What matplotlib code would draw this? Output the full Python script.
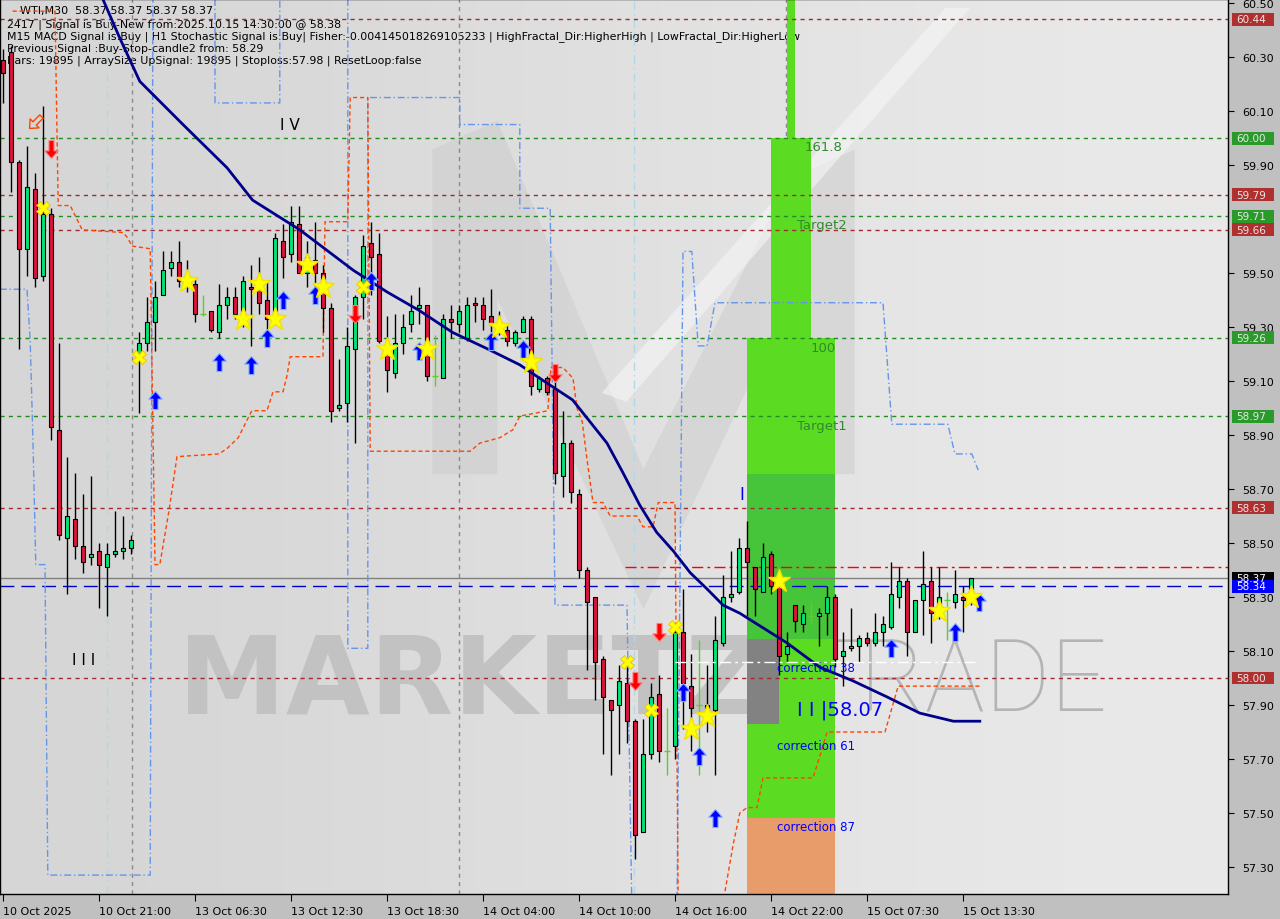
import matplotlib
matplotlib.use("Agg")
import matplotlib.pyplot as plt
from matplotlib.patches import Rectangle, Polygon
from matplotlib.path import Path
from matplotlib.transforms import blended_transform_factory

# -------------------------------------------------------------------------
# WTI M30 bars
# -------------------------------------------------------------------------
opens = [60.29, 60.32, 59.91, 59.59, 59.81, 59.49, 59.72, 58.92, 58.52, 58.59,
         58.49, 58.45, 58.47, 58.41, 58.46, 58.47, 58.48, 59.20, 59.24, 59.32,
         59.42, 59.52, 59.54, 59.47, 59.46, 59.35, 59.36, 59.28, 59.38, 59.41,
         59.35, 59.45, 59.44, 59.40, 59.34, 59.62, 59.57, 59.68, 59.50, 59.55,
         59.50, 59.37, 59.00, 59.02, 59.22, 59.41, 59.61, 59.57, 59.20, 59.13,
         59.24, 59.31, 59.37, 59.38, 59.12, 59.11, 59.33, 59.31, 59.26, 59.39,
         59.38, 59.34, 59.31, 59.29, 59.24, 59.28, 59.33, 59.07, 59.11, 59.07,
         58.75, 58.87, 58.68, 58.40, 58.30, 58.07, 57.92, 57.90, 57.98, 57.84,
         57.43, 57.72, 57.94, 57.73, 57.75, 58.17, 57.97, 57.90, 57.90, 57.88,
         58.13, 58.30, 58.32, 58.48, 58.41, 58.32, 58.46, 58.34, 58.09, 58.27,
         58.20, 58.23, 58.23, 58.24, 58.30, 58.08, 58.11, 58.12, 58.15, 58.13,
         58.17, 58.19, 58.30, 58.36, 58.17, 58.29, 58.36, 58.26, 58.29, 58.28,
         58.30, 58.30]
closes = [60.24, 59.91, 59.59, 59.82, 59.48, 59.72, 58.93, 58.53, 58.60, 58.49,
          58.43, 58.46, 58.42, 58.46, 58.47, 58.48, 58.51, 59.24, 59.32, 59.41,
          59.51, 59.54, 59.47, 59.46, 59.35, 59.35, 59.29, 59.38, 59.41, 59.35,
          59.47, 59.44, 59.39, 59.33, 59.63, 59.56, 59.69, 59.50, 59.56, 59.50,
          59.37, 58.99, 59.01, 59.23, 59.41, 59.60, 59.56, 59.25, 59.14, 59.24,
          59.30, 59.36, 59.38, 59.12, 59.12, 59.33, 59.32, 59.36, 59.38, 59.38,
          59.33, 59.31, 59.29, 59.25, 59.28, 59.33, 59.08, 59.11, 59.06, 58.76,
          58.87, 58.69, 58.40, 58.28, 58.06, 57.93, 57.88, 57.99, 57.84, 57.42,
          57.72, 57.93, 57.73, 57.73, 58.17, 57.98, 57.89, 57.90, 57.87, 58.14,
          58.30, 58.31, 58.48, 58.43, 58.33, 58.45, 58.34, 58.08, 58.12, 58.21,
          58.24, 58.23, 58.24, 58.30, 58.07, 58.10, 58.12, 58.15, 58.13, 58.17,
          58.20, 58.31, 58.36, 58.17, 58.29, 58.35, 58.24, 58.30, 58.29, 58.31,
          58.29, 58.37]
highs = [60.33, 60.34, 59.92, 59.97, 59.87, 60.12, 59.74, 59.24, 58.82, 58.76,
         58.68, 58.75, 58.50, 58.50, 58.62, 58.60, 58.53, 59.28, 59.41, 59.47,
         59.58, 59.58, 59.62, 59.55, 59.48, 59.42, 59.36, 59.46, 59.45, 59.45,
         59.49, 59.53, 59.56, 59.47, 59.65, 59.68, 59.75, 59.75, 59.62, 59.69,
         59.53, 59.39, 59.18, 59.30, 59.42, 59.64, 59.69, 59.65, 59.34, 59.35,
         59.35, 59.42, 59.45, 59.38, 59.27, 59.35, 59.38, 59.38, 59.41, 59.41,
         59.41, 59.44, 59.36, 59.31, 59.29, 59.34, 59.34, 59.12, 59.12, 59.11,
         58.99, 58.88, 58.70, 58.41, 58.30, 58.08, 57.92, 58.05, 58.04, 57.85,
         57.85, 57.98, 58.01, 57.89, 58.18, 58.33, 58.09, 58.14, 58.05, 58.23,
         58.38, 58.47, 58.52, 58.58, 58.41, 58.50, 58.47, 58.34, 58.17, 58.27,
         58.27, 58.28, 58.26, 58.34, 58.31, 58.17, 58.26, 58.16, 58.17, 58.24,
         58.23, 58.43, 58.41, 58.37, 58.29, 58.47, 58.41, 58.41, 58.32, 58.40,
         58.34, 58.37]
lows = [60.13, 59.80, 59.22, 59.49, 59.45, 59.47, 58.88, 58.51, 58.31, 58.44,
        58.39, 58.42, 58.26, 58.23, 58.45, 58.44, 58.46, 58.98, 59.21, 59.21,
        59.42, 59.49, 59.45, 59.43, 59.32, 59.34, 59.28, 59.26, 59.33, 59.33,
        59.30, 59.23, 59.35, 59.29, 59.33, 59.48, 59.54, 59.50, 59.45, 59.45,
        59.28, 58.95, 58.99, 58.95, 58.87, 59.33, 59.42, 59.24, 59.06, 59.11,
        59.20, 59.28, 59.31, 59.10, 59.08, 59.11, 59.26, 59.28, 59.25, 59.32,
        59.29, 59.28, 59.27, 59.23, 59.23, 59.28, 59.05, 59.06, 59.05, 58.72,
        58.67, 58.65, 58.37, 58.03, 57.92, 57.72, 57.64, 57.72, 57.76, 57.33,
        57.43, 57.70, 57.69, 57.64, 57.70, 57.81, 57.73, 57.64, 57.80, 57.64,
        58.12, 58.28, 58.31, 58.23, 58.23, 58.32, 58.31, 58.01, 58.06, 58.17,
        58.17, 58.20, 58.12, 58.16, 58.04, 57.97, 58.10, 58.06, 58.12, 58.12,
        58.12, 58.18, 58.26, 58.08, 58.17, 58.16, 58.13, 58.22, 58.14, 58.26,
        58.17, 58.27]

date_pos = [0, 12, 24, 36, 48, 60, 72, 84, 96, 108, 120]
date_labels = ["10 Oct 2025", "10 Oct 21:00", "13 Oct 06:30", "13 Oct 12:30",
               "13 Oct 18:30", "14 Oct 04:00", "14 Oct 10:00", "14 Oct 16:00",
               "14 Oct 22:00", "15 Oct 07:30", "15 Oct 13:30"]
# 59.70 sits under the 59.71 / 59.66 boxes, so it is not printed
price_ticks = [57.30, 57.50, 57.70, 57.90, 58.10, 58.30, 58.50, 58.70,
               58.90, 59.10, 59.30, 59.50, 59.90, 60.10, 60.30, 60.50]

# moving average (dark blue curve)
ma_idx = [10.9, 12.4, 14.6, 17.1, 22.5, 28.0, 31.2, 37.1, 43.8, 48.0, 52.1,
          56.2, 60.5, 64.6, 67.1, 71.2, 75.5, 77.5, 79.6, 81.7, 83.8, 85.9,
          88.0, 90.0, 92.1, 98.0, 102.1, 106.2, 110.5, 114.6, 118.8, 122.1]
ma_val = [60.61, 60.52, 60.37, 60.21, 60.05, 59.89, 59.77, 59.66, 59.51, 59.43,
          59.36, 59.28, 59.22, 59.16, 59.11, 59.03, 58.87, 58.76, 58.64, 58.54,
          58.47, 58.39, 58.33, 58.27, 58.24, 58.13, 58.04, 57.99, 57.93, 57.87,
          57.84, 57.84]

# upper fractal channel (blue dash-dot)
up_idx = [-0.4, 3.0, 3.4, 3.75, 4.1, 5.25, 5.6, 18.4, 18.75, 26.5, 26.5, 34.6,
          34.6, 43.1, 43.1, 45.6, 45.6, 57.1, 57.1, 64.6, 64.6, 68.4, 69.0, 78.0,
          78.6, 84.25, 85.0, 86.1, 86.9, 88.0, 89.0, 110.0, 111.1, 118.1, 119.0,
          121.1, 121.9]
up_val = [59.44, 59.44, 59.25, 58.87, 58.42, 58.42, 57.27, 57.27, 60.60, 60.60,
          60.13, 60.13, 60.60, 60.60, 58.11, 58.11, 60.15, 60.15, 60.05, 60.05,
          59.74, 59.74, 58.27, 58.27, 57.16, 57.16, 59.58, 59.58, 59.23, 59.23,
          59.39, 59.39, 58.94, 58.94, 58.83, 58.83, 58.77]

# lower fractal channel (orange dashed)
lo_idx = [1.2, 6.5, 6.9, 8.4, 9.9, 15.0, 15.6, 16.1, 18.4, 19.0, 19.6, 20.75,
          21.75, 27.0, 28.0, 29.4, 31.1, 33.0, 33.75, 35.0, 35.5, 35.9, 40.0,
          40.25, 43.1, 43.4, 45.6, 45.9, 58.4, 59.6, 62.1, 63.75, 64.6, 68.1,
          68.5, 70.0, 71.25, 71.75, 72.4, 73.0, 73.75, 75.0, 75.9, 79.25, 80.0,
          81.25, 81.9, 84.0, 84.4, 89.9, 90.25, 91.25, 92.1, 93.0, 94.25, 95.0,
          101.25, 102.1, 103.0, 110.25, 111.9, 122.1]
lo_val = [60.47, 60.47, 59.75, 59.75, 59.66, 59.65, 59.63, 59.60, 59.59, 58.42,
          58.42, 58.62, 58.82, 58.83, 58.85, 58.89, 58.99, 58.99, 59.06, 59.06,
          59.12, 59.19, 59.19, 59.69, 59.69, 60.15, 60.15, 58.84, 58.84, 58.87,
          58.89, 58.92, 58.97, 58.99, 59.15, 59.15, 59.11, 59.00, 58.95, 58.81,
          58.65, 58.65, 58.60, 58.60, 58.56, 58.56, 58.65, 58.65, 57.16, 57.16,
          57.21, 57.38, 57.50, 57.52, 57.52, 57.63, 57.63, 57.71, 57.80, 57.80,
          57.97, 57.97]

red_levels = [60.44, 59.79, 59.66, 58.63, 58.00]
green_levels = [60.00, 59.71, 59.26, 58.97]
last_price = 58.37
blue_line = 58.34
signal_level = 58.41
signal_from = 77.7
corr_level = 58.06
corr_span = [84.0, 122.0]

# signal markers
up_arrow_idx = [19, 27, 31, 33, 35, 39, 46, 52, 61, 65, 85, 87, 89, 111, 119, 122]
up_arrow_val = [59.03, 59.17, 59.16, 59.26, 59.40, 59.42, 59.47, 59.21, 59.25,
                59.22, 57.95, 57.71, 57.48, 58.11, 58.17, 58.28]
dn_arrow_idx = [6, 44, 69, 79, 82]
dn_arrow_val = [59.96, 59.35, 59.13, 57.99, 58.17]
star_idx = [23, 30, 32, 34, 38, 40, 48, 53, 62, 66, 86, 88, 97, 117, 121]
star_val = [59.47, 59.33, 59.46, 59.33, 59.53, 59.45, 59.22, 59.22, 59.30,
            59.17, 57.81, 57.86, 58.36, 58.25, 58.30]
cross_idx = [5, 17, 45, 78, 81, 84]
cross_val = [59.74, 59.19, 59.45, 58.06, 57.88, 58.19]

# target zones: (left bar, right bar, bottom, top)
lime_zones = [(98, 99, 60.00, 60.60), (96, 101, 59.26, 60.00),
              (93, 104, 58.755, 59.26), (97, 104, 57.83, 58.144),
              (93, 104, 57.48, 57.83)]
dark_zone = (93, 104, 58.144, 58.755)
grey_zone = (93, 97, 57.83, 58.144)
salmon_zone = (93, 104, 57.10, 57.48)

header = ["2417 | Signal is Buy-New from:2025.10.15 14:30:00 @ 58.38",
          "M15 MACD Signal is:Buy | H1 Stochastic Signal is:Buy| Fisher:-0.004145018269105233 | HighFractal_Dir:HigherHigh | LowFractal_Dir:HigherLow",
          "Previous Signal :Buy-Stop-candle2 from: 58.29",
          "Bars: 19895 | ArraySize UpSignal: 19895 | Stoploss:57.98 | ResetLoop:false"]

# -------------------------------------------------------------------------
# figure
# -------------------------------------------------------------------------
W, H = 1280, 920
fig = plt.figure(figsize=(12.8, 9.2), dpi=100, facecolor="#c0c0c0")
ax = fig.add_axes([0, 25 / H, 1228 / W, 895 / H])
ax.set_facecolor("#dcdcdc")
ax.set_xlim(-0.375, 153.125)
ax.set_ylim(57.20, 60.515)

# light background gradient
ax.imshow([[0.0, 0.35, 0.7, 1.0]], extent=(0, 1, 0, 1), transform=ax.transAxes,
          cmap=matplotlib.colors.LinearSegmentedColormap.from_list("bg", ["#d6d6d6", "#e9e9e9"]),
          aspect="auto", zorder=0, interpolation="bicubic")

# faint "M" logo behind everything
m_logo = [(0.352, 0.469), (0.352, 0.832), (0.405, 0.864), (0.524, 0.475),
          (0.643, 0.799), (0.696, 0.832), (0.696, 0.469), (0.643, 0.469),
          (0.643, 0.665), (0.524, 0.318), (0.405, 0.665), (0.405, 0.469)]
ax.add_patch(Polygon(m_logo, closed=True, transform=ax.transAxes,
                     facecolor="#c9c9c9", edgecolor="none", alpha=0.45, zorder=0.5))
ax.add_patch(Polygon([(0.49, 0.56), (0.77, 0.99), (0.79, 0.99), (0.51, 0.55)],
                     closed=True, transform=ax.transAxes, facecolor="#f6f6f6",
                     edgecolor="none", alpha=0.6, zorder=0.5))

# watermark
ax.text(0.145, 0.236, "MARKETZ", transform=ax.transAxes, fontsize=78,
        fontweight="bold", color="#c2c2c2", va="center", ha="left", zorder=0.6)
ax.text(0.652, 0.236, "TRADE", transform=ax.transAxes, fontsize=72,
        family="Roboto", fontweight="light", color="#b4b4b4", va="center",
        ha="left", zorder=0.6)

# header lines
ax.text(20 / 1228, 1 - 11 / 895, "WTI,M30  58.37 58.37 58.37 58.37",
        transform=ax.transAxes, fontsize=8, va="center", ha="left", zorder=1)
for k, line in enumerate(header):
    ax.text(7 / 1228, 1 - (25 + 12 * k) / 895, line, transform=ax.transAxes,
            fontsize=7.9, va="center", ha="left", zorder=1)

# day separators
for xv in [16.1, 57.0, 97.9]:
    ax.axvline(xv, color="#8a8a8a", ls=(0, (3, 3)), lw=1, zorder=1)
for xv in [13.0, 78.9]:
    ax.axvline(xv, color="#b0d8e8", ls=(0, (6, 3, 1, 3)), lw=1, zorder=1)

# target zones
def zone(z, color, zo=1.2):
    ax.add_patch(Rectangle((z[0], z[2]), z[1] - z[0], z[3] - z[2],
                           facecolor=color, edgecolor="none", zorder=zo))

for z in lime_zones:
    zone(z, "#5bdc22")
zone(dark_zone, "#47c53a")
zone(grey_zone, "#828282")
zone(salmon_zone, "#e89c6a")

zone_txt = dict(color="#2e8b2e", fontsize=9.5, va="center", ha="left", zorder=3)
ax.text(100.25, 59.967, "161.8", **zone_txt)
ax.text(99.25, 59.68, "Target2", **zone_txt)
ax.text(101.0, 59.226, "100", **zone_txt)
ax.text(99.25, 58.937, "Target1", **zone_txt)

# level lines
for lv in red_levels:
    ax.axhline(lv, color="#a52a2a", ls=(0, (3, 3)), lw=1, zorder=1.5)
for lv in green_levels:
    ax.axhline(lv, color="#228b22", ls=(0, (3, 3)), lw=1, zorder=1.5)
ax.axhline(last_price, color="#808080", lw=1, zorder=1.5)
ax.axhline(blue_line, color="#0000cd", ls=(0, (10, 5)), lw=1, zorder=1.5)
ax.plot([signal_from, 153.2], [signal_level, signal_level], color="#ff0000",
        ls=(0, (8, 3, 2, 3)), lw=1, zorder=1.5)
ax.plot(corr_span, [corr_level, corr_level], color="#ffffff",
        ls=(0, (8, 3, 2, 3)), lw=1, zorder=2.6)

# fractal channels
ax.plot(up_idx, up_val, color="#6495ed", ls=(0, (5, 2, 1, 2)), lw=1, zorder=1.8)
ax.plot(lo_idx, lo_val, color="#ff4500", ls=(0, (3, 2)), lw=1, zorder=1.8)

# candles
for i in range(len(opens)):
    o, c, h, l = opens[i], closes[i], highs[i], lows[i]
    if o == c:
        ax.vlines(i, l, h, color="#5ccd2a", lw=1, zorder=2.2)
        ax.hlines(o, i - 0.35, i + 0.35, color="#5ccd2a", lw=1, zorder=2.2)
        continue
    ax.vlines(i, l, h, color="black", lw=1, zorder=2.2)
    col = "#00e676" if c > o else "#dc143c"
    ax.add_patch(Rectangle((i - 0.31, min(o, c)), 0.62, abs(c - o),
                           facecolor=col, edgecolor="black", lw=0.8, zorder=2.3))

# moving average
ax.plot(ma_idx, ma_val, color="#00008b", lw=2, zorder=2.5)

# signal markers
arrow_up = Path([(0, 1), (0.75, 0.15), (0.28, 0.15), (0.28, -1), (-0.28, -1),
                 (-0.28, 0.15), (-0.75, 0.15), (0, 1)])
arrow_dn = Path([(x, -y) for x, y in arrow_up.vertices])
ax.plot(up_arrow_idx, up_arrow_val, ls="none", marker=arrow_up, ms=13,
        mfc="#0000ff", mec="#7fb0ff", mew=0.8, zorder=3)
ax.plot(dn_arrow_idx, dn_arrow_val, ls="none", marker=arrow_dn, ms=13,
        mfc="#ff0000", mec="#ff8080", mew=0.8, zorder=3)
ax.plot(star_idx, star_val, ls="none", marker="*", ms=17, mfc="#ffff00",
        mec="#f2e200", zorder=3)
ax.plot(cross_idx, cross_val, ls="none", marker="X", ms=10, mfc="#ffff00",
        mec="#e6c200", mew=0.6, zorder=3)
ax.plot([4], [60.06], ls="none", marker=Path([(x * 0.7 + y * 0.7, -x * 0.7 + y * 0.7)
        for x, y in arrow_dn.vertices]), ms=11, mfc="none", mec="#ff4500", mew=1, zorder=3)

# wave labels
ax.text(34.6, 60.05, "I V", fontsize=11, color="black", va="center", ha="left", zorder=3)
ax.text(8.6, 58.07, "I I I", fontsize=11, color="black", va="center", ha="left", zorder=3)
ax.text(92.1, 58.68, "I", fontsize=12, color="#0000ff", va="center", ha="left", zorder=3)
ax.text(99.2, 57.885, "I I |58.07", fontsize=14, color="#0000ff", va="center", ha="left", zorder=3)
corr = dict(fontsize=8.5, color="#0000ff", va="center", ha="left", zorder=3)
ax.text(96.75, 58.04, "correction 38", **corr)
ax.text(96.75, 57.75, "correction 61", **corr)
ax.text(96.75, 57.45, "correction 87", **corr)

# axes styling
for sp in ax.spines.values():
    sp.set_color("black")
    sp.set_linewidth(1)
ax.yaxis.tick_right()
ax.set_yticks(price_ticks)
ax.set_yticklabels([f"{v:.2f}" for v in price_ticks])
ax.tick_params(axis="y", direction="out", length=4, pad=6, labelsize=8,
               colors="black", right=True, left=False)
ax.set_xticks(date_pos)
ax.set_xticklabels(date_labels, ha="left")
ax.tick_params(axis="x", direction="out", length=5, pad=4, labelsize=8, colors="black")

# right-axis price boxes
tr = blended_transform_factory(ax.transAxes, ax.transData)
boxes = [(lv, "#b03030", "#e8e8e8") for lv in red_levels] + \
        [(lv, "#2a9a2a", "#e8e8e8") for lv in green_levels] + \
        [(last_price, "#000000", "#ffffff"), (blue_line, "#0000ff", "#ffffff")]
for lv, bg, fg in boxes:
    ax.add_patch(Rectangle((1232 / 1228, lv - 0.024), 42 / 1228, 0.048,
                           transform=tr, facecolor=bg, edgecolor="none",
                           clip_on=False, zorder=4))
    ax.text(1236 / 1228, lv, f"{lv:.2f}", transform=tr, fontsize=7.5, color=fg,
            va="center", ha="left", clip_on=False, zorder=5)

fig.savefig("out.png", dpi=100, facecolor=fig.get_facecolor())
